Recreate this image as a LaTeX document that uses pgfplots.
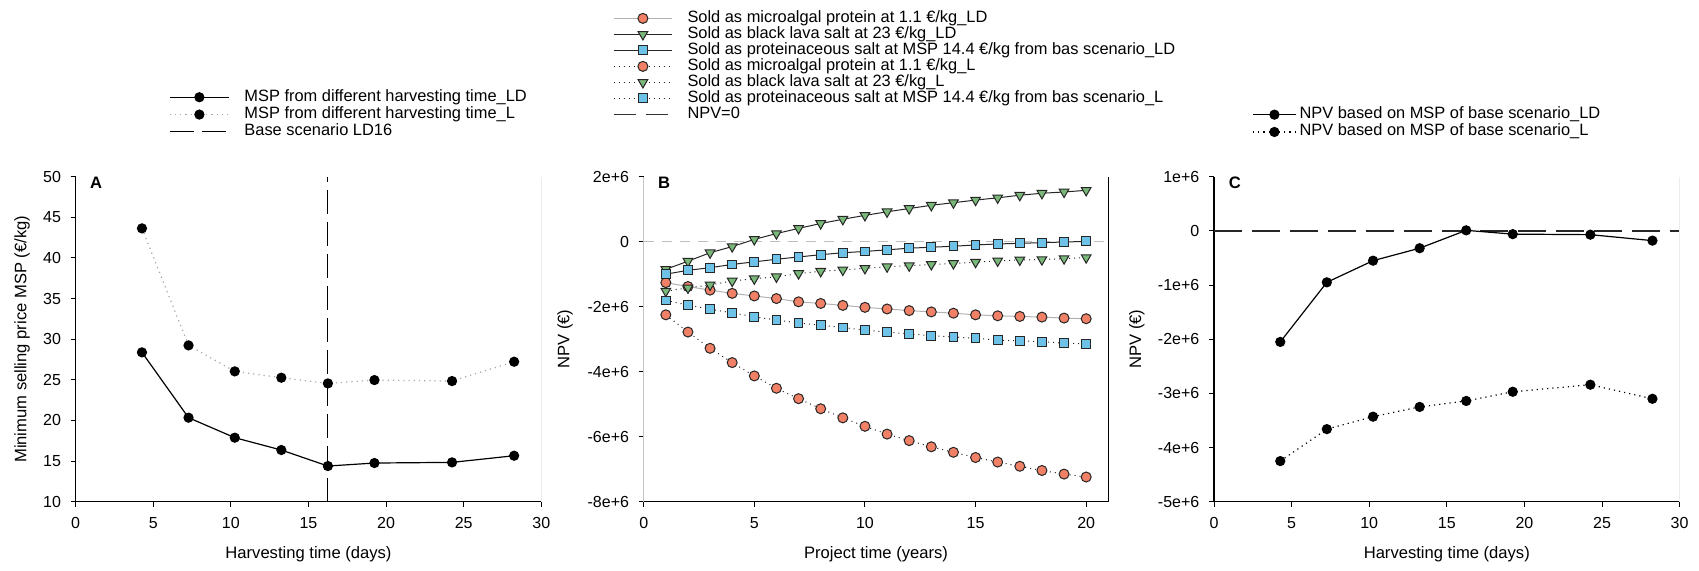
\documentclass[border=0pt]{standalone}
\usepackage{pgfplots}
\usepackage{pgfplotstable}
\pgfplotsset{compat=1.18}
\usepackage{fontspec}
\setmainfont{Liberation Sans}
\definecolor{orangeM}{RGB}{240,128,102}
\definecolor{greenM}{RGB}{122,184,122}
\definecolor{blueM}{RGB}{110,194,232}

\pgfplotstableread{
x oLD gLD bLD oL gL bL
1 -1.26e6 -0.85e6 -1.00e6 -2.25e6 -1.52e6 -1.81e6
2 -1.38e6 -0.60e6 -0.88e6 -2.78e6 -1.42e6 -1.95e6
3 -1.49e6 -0.34e6 -0.80e6 -3.28e6 -1.33e6 -2.08e6
4 -1.59e6 -0.15e6 -0.70e6 -3.72e6 -1.21e6 -2.19e6
5 -1.67e6 0.07e6 -0.62e6 -4.13e6 -1.14e6 -2.31e6
6 -1.75e6 0.25e6 -0.54e6 -4.51e6 -1.08e6 -2.41e6
7 -1.85e6 0.41e6 -0.47e6 -4.83e6 -0.98e6 -2.50e6
8 -1.90e6 0.56e6 -0.40e6 -5.14e6 -0.91e6 -2.57e6
9 -1.96e6 0.69e6 -0.34e6 -5.42e6 -0.87e6 -2.64e6
10 -2.02e6 0.81e6 -0.30e6 -5.68e6 -0.82e6 -2.72e6
11 -2.07e6 0.92e6 -0.25e6 -5.92e6 -0.77e6 -2.78e6
12 -2.12e6 1.02e6 -0.20e6 -6.12e6 -0.74e6 -2.84e6
13 -2.16e6 1.12e6 -0.17e6 -6.31e6 -0.70e6 -2.89e6
14 -2.20e6 1.20e6 -0.14e6 -6.48e6 -0.67e6 -2.93e6
15 -2.25e6 1.28e6 -0.10e6 -6.64e6 -0.63e6 -2.97e6
16 -2.28e6 1.35e6 -0.07e6 -6.78e6 -0.59e6 -3.03e6
17 -2.30e6 1.43e6 -0.05e6 -6.91e6 -0.56e6 -3.05e6
18 -2.32e6 1.49e6 -0.03e6 -7.04e6 -0.55e6 -3.08e6
19 -2.35e6 1.53e6 -0.01e6 -7.15e6 -0.52e6 -3.12e6
20 -2.37e6 1.58e6 0.01e6 -7.24e6 -0.49e6 -3.14e6
}\tableB

\pgfplotstableread{
x LD L
4.27 28.38 43.64
7.27 20.34 29.24
10.25 17.88 26.04
13.25 16.36 25.26
16.25 14.39 24.56
19.25 14.76 24.97
24.25 14.84 24.85
28.25 15.66 27.23
}\tableA

\pgfplotstableread{
x LD L
4.27 -2.05e6 -4.25e6
7.27 -0.95e6 -3.66e6
10.25 -0.55e6 -3.43e6
13.25 -0.32e6 -3.25e6
16.25 0.01e6 -3.14e6
19.25 -0.06e6 -2.97e6
24.25 -0.07e6 -2.84e6
28.25 -0.18e6 -3.10e6
}\tableC

\pgfplotsset{
  common/.style={
    scale only axis, height=162.5pt, anchor=south west,
    axis x line*=bottom, axis y line*=left,
    axis line style={-, black, line width=0.6pt},
    tick align=outside, major tick length=2.5pt,
    tick style={black, line width=0.5pt},
    font=\fontsize{8}{9}\selectfont,
    /pgf/number format/assume math mode=true,
    ticklabel style={font=\fontsize{8}{9}\selectfont},
    yticklabel style={xshift=-1.3pt},
    xticklabel style={yshift=-2pt},
    scaled y ticks=false,
    every axis x label/.style={at={(axis description cs:0.5,-0.163)}, anchor=center, font=\fontsize{8.3}{9}\selectfont},
    legend cell align=left,
    legend style={draw=none, fill=none, inner sep=0pt, outer sep=0pt, row sep=0pt, anchor=north west,
      font=\fontsize{8.2}{8.6}\selectfont,
      nodes={inner sep=0pt, text height=6.3pt, text depth=2.35pt}},
    clip=false,
  },
}

\begin{document}
\begin{tikzpicture}
\path[use as bounding box] (0,0) rectangle (849.5pt,285pt);

% ---------------- Panel A
\begin{axis}[common, at={(37.85pt,34.15pt)}, width=232.8pt,
  xmin=0, xmax=30, ymin=10, ymax=50,
  xtick={0,5,...,30}, ytick={10,15,...,50},
  xlabel={Harvesting time (days)},
  ylabel={Minimum selling price MSP (€/kg)},
  every axis y label/.style={at={(axis description cs:-0.1153,0.5)}, rotate=90, anchor=center, font=\fontsize{8.3}{9}\selectfont},
  legend style={at={(0.201,1.2711)}, /tikz/every odd column/.append style={column sep=7.5pt}},
  legend image code/.code={\draw[mark repeat=2,mark phase=2,#1] plot coordinates {(0pt,0pt)(14.75pt,0pt)(29.5pt,0pt)};},
]
\addplot[forget plot, black, line width=0.6pt, dash pattern=on 12pt off 4pt] coordinates {(16.25,10) (16.25,50)};
\addplot[black, line width=0.6pt, mark=*, mark size=2.25pt] table[x=x,y=LD] {\tableA};
\addlegendentry{MSP from different harvesting time\_LD}
\addplot[gray!70, dotted, line width=0.6pt, mark=*, mark size=2.25pt, mark options={solid, black}] table[x=x,y=L] {\tableA};
\addlegendentry{MSP from different harvesting time\_L}
\addlegendimage{black, line width=0.6pt, dash pattern=on 12pt off 4pt}
\addlegendentry{Base scenario LD16}
\draw[gray!15, line width=0.6pt] (rel axis cs:1,0) -- (rel axis cs:1,1);
\node[font=\bfseries\fontsize{8.3}{9}\selectfont] at (rel axis cs:0.044,0.98) {A};
\end{axis}

% ---------------- Panel B
\begin{axis}[common, at={(321.85pt,34.15pt)}, width=232.3pt,
  xmin=0, xmax=21, ymin=-8e6, ymax=2e6,
  xtick={0,5,10,15,20},
  ytick={-8e6,-6e6,-4e6,-2e6,0,2e6},
  yticklabels={-8e+6,-6e+6,-4e+6,-2e+6,0,2e+6},
  y axis line style={gray!45},
  xlabel={Project time (years)},
  ylabel={NPV (€)},
  every axis y label/.style={at={(axis description cs:-0.1694,0.5)}, rotate=90, anchor=center, font=\fontsize{8.3}{9}\selectfont},
  legend style={at={(-0.0654,1.5117)}, nodes={text height=5.9pt, text depth=2.1pt}, /tikz/every odd column/.append style={column sep=7.5pt}},
  legend image code/.code={\draw[mark repeat=2,mark phase=2,#1] plot coordinates {(0pt,0pt)(14.5pt,0pt)(29pt,0pt)};},
]
\addplot[forget plot, gray!50, line width=0.6pt, dash pattern=on 5pt off 4pt] coordinates {(0,0) (21,0)};
\addplot[gray!60, line width=0.5pt, mark=*, mark size=2.5pt, mark options={fill=orangeM, draw=black!85, line width=0.5pt}] table[x=x,y=oLD] {\tableB};
\addlegendentry{Sold as microalgal protein at 1.1 €/kg\_LD}
\addplot[black!85, line width=0.5pt, mark=triangle*, mark size=2.8pt, mark options={rotate=180, fill=greenM, draw=black!85, line width=0.5pt}] table[x=x,y=gLD] {\tableB};
\addlegendentry{Sold as black lava salt at 23 €/kg\_LD}
\addplot[black!85, line width=0.5pt, mark=square*, mark size=2.2pt, mark options={fill=blueM, draw=black!85, line width=0.5pt}] table[x=x,y=bLD] {\tableB};
\addlegendentry{Sold as proteinaceous salt at MSP 14.4 €/kg from bas scenario\_LD}
\addplot[black!85, dotted, line width=0.5pt, mark=*, mark size=2.5pt, mark options={solid, fill=orangeM, draw=black!85, line width=0.5pt}] table[x=x,y=oL] {\tableB};
\addlegendentry{Sold as microalgal protein at 1.1 €/kg\_L}
\addplot[black!85, dotted, line width=0.5pt, mark=triangle*, mark size=2.8pt, mark options={solid, rotate=180, fill=greenM, draw=black!85, line width=0.5pt}] table[x=x,y=gL] {\tableB};
\addlegendentry{Sold as black lava salt at 23 €/kg\_L}
\addplot[black!85, dotted, line width=0.5pt, mark=square*, mark size=2.2pt, mark options={solid, fill=blueM, draw=black!85, line width=0.5pt}] table[x=x,y=bL] {\tableB};
\addlegendentry{Sold as proteinaceous salt at MSP 14.4 €/kg from bas scenario\_L}
\addlegendimage{black!80, line width=0.6pt, dash pattern=on 11pt off 5pt}
\addlegendentry{NPV=0}
\draw[black, line width=0.6pt] (rel axis cs:1,0) -- (rel axis cs:1,1);
\node[font=\bfseries\fontsize{8.3}{9}\selectfont] at (rel axis cs:0.044,0.98) {B};
\end{axis}

% ---------------- Panel C
\begin{axis}[common, at={(607pt,34.15pt)}, width=232.8pt,
  xmin=0, xmax=30, ymin=-5e6, ymax=1e6,
  xtick={0,5,...,30},
  ytick={-5e6,-4e6,-3e6,-2e6,-1e6,0,1e6},
  yticklabels={-5e+6,-4e+6,-3e+6,-2e+6,-1e+6,0,1e+6},
  xlabel={Harvesting time (days)},
  ylabel={NPV (€)},
  every axis y label/.style={at={(axis description cs:-0.166,0.5)}, rotate=90, anchor=center, font=\fontsize{8.3}{9}\selectfont},
  legend style={at={(0.0823,1.2175)}, /tikz/every odd column/.append style={column sep=1.5pt}},
  legend image code/.code={\draw[mark repeat=2,mark phase=2,#1] plot coordinates {(0pt,0pt)(10.75pt,0pt)(21.5pt,0pt)};},
]
\addplot[forget plot, black!85, line width=0.9pt, dash pattern=on 14pt off 5pt] coordinates {(0,0) (30,0)};
\addplot[black, line width=0.6pt, mark=*, mark size=2.25pt] table[x=x,y=LD] {\tableC};
\addlegendentry{NPV based on MSP of base scenario\_LD}
\addplot[black, dotted, line width=0.6pt, mark=*, mark size=2.25pt, mark options={solid}] table[x=x,y=L] {\tableC};
\addlegendentry{NPV based on MSP of base scenario\_L}
\draw[gray!15, line width=0.6pt] (rel axis cs:1,0) -- (rel axis cs:1,1);
\node[font=\bfseries\fontsize{8.3}{9}\selectfont] at (rel axis cs:0.045,0.98) {C};
\end{axis}
\end{tikzpicture}
\end{document}
